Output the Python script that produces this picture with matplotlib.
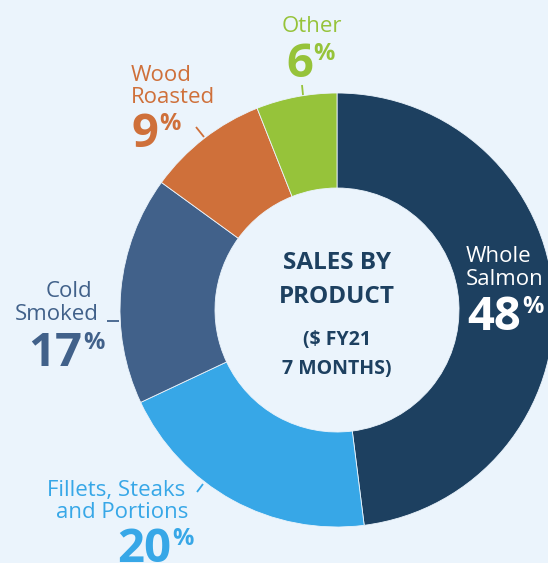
import matplotlib
matplotlib.use("Agg")
import matplotlib.pyplot as plt

plt.rcParams['font.family'] = ['Open Sans', 'DejaVu Sans']

# ---- data ----
categories = ["Whole Salmon", "Fillets, Steaks and Portions", "Cold Smoked", "Wood Roasted", "Other"]
shares = [48, 20, 17, 9, 6]
colors = ["#1D4060", "#37A7E7", "#41618A", "#CF703A", "#96C33A"]
pct_labels = ["48", "20", "17", "9", "6"]

BG = "#EBF4FC"
W, H = 548, 563

fig = plt.figure(figsize=(W / 100, H / 100), dpi=100)
fig.patch.set_facecolor(BG)
ax = fig.add_axes([0, 0, 1, 1])
ax.set_facecolor(BG)


def Y(py):
    return H - py


cx, cy, R, r_in = 337, Y(310), 217, 122
ax.pie(shares, colors=colors, startangle=90, counterclock=False,
       center=(cx, cy), radius=R,
       wedgeprops=dict(width=R - r_in, edgecolor=BG, linewidth=0.6))
ax.set_xlim(0, W)
ax.set_ylim(0, H)
ax.set_aspect('equal')
ax.axis('off')

renderer = fig.canvas.get_renderer()
LS = 16


def label_line(text, x, baseline, color, size=LS, ha='left', weight='normal'):
    ax.text(x, Y(baseline), text, color=color, fontsize=size, ha=ha,
            va='baseline', weight=weight)


def big_pct(num, left, right, baseline, color):
    t = ax.text(0, Y(baseline), num, color=color, fontsize=34, weight='bold',
                ha='left', va='baseline')
    p = ax.text(0, Y(baseline - 34 + 17), "%", color=color, fontsize=17,
                weight='bold', ha='left', va='baseline')
    wt = t.get_window_extent(renderer=renderer).width
    wp = p.get_window_extent(renderer=renderer).width
    total = wt + 1 + wp
    x0 = (left + right) / 2 - total / 2
    t.set_x(x0)
    p.set_x(x0 + wt + 1)


def leader(p0, p1, color):
    ax.plot([p0[0], p1[0]], [Y(p0[1]), Y(p1[1])], color=color, lw=1.3,
            solid_capstyle='butt')


# Other
label_line("Other", 312, 32, colors[4], ha='center')
big_pct(pct_labels[4], 286, 335, 77, colors[4])
leader((302, 85), (303, 95), colors[4])

# Wood Roasted
label_line("Wood", 131, 81, colors[3])
label_line("Roasted", 131, 103, colors[3])
big_pct(pct_labels[3], 131, 182, 147, colors[3])
leader((196, 127), (204, 137), colors[3])

# Cold Smoked
label_line("Cold", 92, 297, colors[2], ha='right')
label_line("Smoked", 99, 320, colors[2], ha='right')
big_pct(pct_labels[2], 33, 99, 366, colors[2])
leader((107, 321), (119, 321), colors[2])

# Fillets, Steaks and Portions
label_line("Fillets, Steaks", 185, 496, colors[1], ha='right')
label_line("and Portions", 188, 518, colors[1], ha='right')
big_pct(pct_labels[1], 118, 193, 562, colors[1])
leader((197, 492), (203, 484), colors[1])

# Whole Salmon (inside the wedge)
label_line("Whole", 466, 262, "white")
label_line("Salmon", 466, 285, "white")
big_pct(pct_labels[0], 466, 545, 330, "white")

# Centre title
navy = colors[0]
ax.text(cx, Y(269), "SALES BY", color=navy, fontsize=17.5, weight='bold', ha='center', va='baseline')
ax.text(cx, Y(303), "PRODUCT", color=navy, fontsize=17.5, weight='bold', ha='center', va='baseline')
ax.text(cx, Y(345), "($ FY21", color=navy, fontsize=14, weight='bold', ha='center', va='baseline')
ax.text(cx, Y(374), "7 MONTHS)", color=navy, fontsize=14, weight='bold', ha='center', va='baseline')

fig.savefig("out.png", dpi=100, facecolor=BG)
